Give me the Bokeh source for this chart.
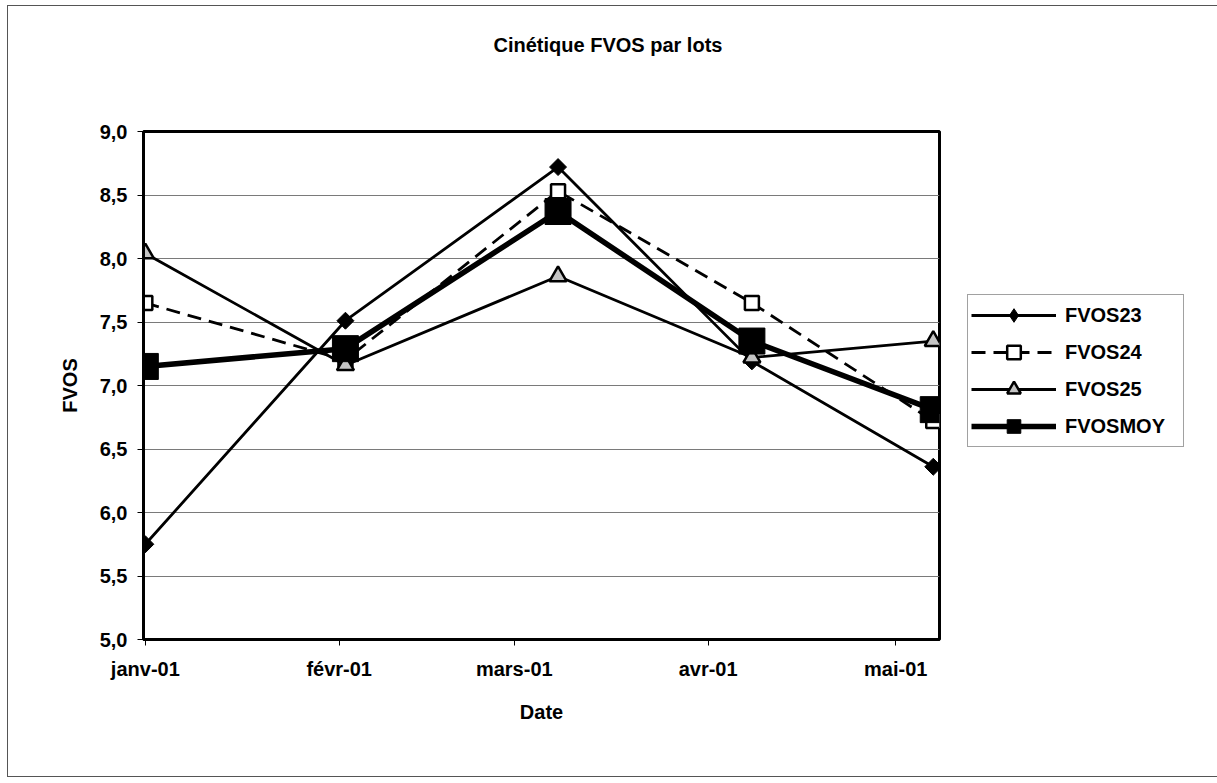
from datetime import datetime, timedelta
from bokeh.plotting import figure
from bokeh.models import (Range1d, FixedTicker, CustomJSTickFormatter, Legend, LegendItem, Title)
from bokeh.embed import file_html
from bokeh.resources import INLINE
import math

# ---- data ----
dates = ["2001-01-01", "2001-02-02", "2001-03-08", "2001-04-08", "2001-05-07"]
fvos23 = [5.75, 7.51, 8.72, 7.19, 6.36]
fvos24 = [7.65, 7.20, 8.53, 7.65, 6.72]
fvos25 = [8.04, 7.16, 7.86, 7.22, 7.35]
fvosmoy = [7.15, 7.29, 8.37, 7.35, 6.81]
series_names = ["FVOS23", "FVOS24", "FVOS25", "FVOSMOY"]
month_ticks = ["2001-01-01", "2001-02-01", "2001-03-01", "2001-04-01", "2001-05-01"]
month_labels = ["janv-01", "févr-01", "mars-01", "avr-01", "mai-01"]
y_ticks = [5.0, 5.5, 6.0, 6.5, 7.0, 7.5, 8.0, 8.5, 9.0]
title_text = "Cinétique FVOS par lots"

FONT = "Liberation Sans"

def to_dt(s):
    return datetime.strptime(s, "%Y-%m-%d")

def to_ms(d):
    return (d - datetime(1970, 1, 1)).total_seconds() * 1000.0

xs = [to_dt(d) for d in dates]
tick_ms = [to_ms(to_dt(d)) for d in month_ticks]

x_start = to_dt(month_ticks[0]) - timedelta(hours=7)
x_end = to_dt("2001-05-08")

p = figure(frame_width=796, frame_height=508, x_axis_type="datetime",
           x_range=Range1d(x_start, x_end), y_range=Range1d(5.0, 9.0),
           output_backend="svg", toolbar_location=None,
           min_border_left=135, min_border_right=272,
           min_border_top=125, min_border_bottom=137,
           background_fill_color="white", border_fill_color="white")
p.margin = (5, 0, 0, 7)
p.styles = {"border": "1px solid #555"}
p.title = None

# spacer title (closest to the frame) then the real chart title above it
p.add_layout(Title(text=" ", standoff=73, text_font_size="1px"), "above")
p.add_layout(Title(text=title_text, align="left", offset=350, standoff=0,
                   text_font=FONT, text_font_style="bold", text_font_size="20px",
                   text_color="black"), "above")

p.outline_line_color = "black"
p.outline_line_width = 3

# grid
p.xgrid.visible = False
p.ygrid.grid_line_color = "#7a7a7a"
p.ygrid.grid_line_width = 1
p.ygrid.ticker = FixedTicker(ticks=y_ticks)

# y axis
p.yaxis.ticker = FixedTicker(ticks=y_ticks)
p.yaxis.formatter = CustomJSTickFormatter(code="return tick.toFixed(1).replace('.', ',');")
p.yaxis.axis_label = "FVOS"
p.yaxis.axis_label_standoff = 16
# x axis
p.xaxis.ticker = FixedTicker(ticks=tick_ms)
p.xaxis.major_label_overrides = {t: l for t, l in zip(tick_ms, month_labels)}
p.xaxis.axis_label = "Date"
p.xaxis.axis_label_standoff = 18

for ax in (p.xaxis[0], p.yaxis[0]):
    ax.axis_line_color = "black"
    ax.axis_line_width = 3
    ax.major_tick_out = 6
    ax.major_tick_in = 0
    ax.major_tick_line_color = "black"
    ax.major_tick_line_width = 1
    ax.minor_tick_out = 0
    ax.minor_tick_in = 0
    ax.major_label_text_font = FONT
    ax.major_label_text_font_style = "bold"
    ax.major_label_text_font_size = "20px"
    ax.major_label_text_color = "black"
    ax.axis_label_text_font = FONT
    ax.axis_label_text_font_style = "bold"
    ax.axis_label_text_font_size = "20px"
    ax.axis_label_text_color = "black"
p.xaxis.major_label_standoff = 12
p.yaxis.major_label_standoff = 10

# series
l23 = p.line(xs, fvos23, line_color="black", line_width=2.8)
m23 = p.scatter(xs, fvos23, marker="square", angle=math.pi / 4, size=12,
                fill_color="black", line_color="black")
# diamond shape used for the legend swatch (size 0: nothing drawn in the plot)
k23 = p.scatter(xs, fvos23, marker="diamond", size=0,
                fill_color="black", line_color="black")

l24 = p.line(xs, fvos24, line_color="black", line_width=2.8, line_dash="14 8")
m24 = p.scatter(xs, fvos24, marker="square", size=14, fill_color="white",
                line_color="black", line_width=2.5)

l25 = p.line(xs, fvos25, line_color="black", line_width=2.8)
m25 = p.scatter(xs, fvos25, marker="triangle", size=17, fill_color="#c4c4c4",
                line_color="black", line_width=2.5)

lmoy = p.line(xs, fvosmoy, line_color="black", line_width=5.5)
mmoy = p.scatter(xs, fvosmoy, marker="square", size=26, fill_color="black",
                 line_color="black")

legend = Legend(items=[
    LegendItem(label=series_names[0], renderers=[l23, k23]),
    LegendItem(label=series_names[1], renderers=[l24, m24]),
    LegendItem(label=series_names[2], renderers=[l25, m25]),
    LegendItem(label=series_names[3], renderers=[lmoy, mmoy]),
], location=(28, 192))
legend.glyph_width = 85
legend.glyph_height = 34
legend.label_width = 115
legend.label_standoff = 9
legend.spacing = 3
legend.padding = 3
legend.margin = 0
legend.label_text_font = FONT
legend.label_text_font_style = "bold"
legend.label_text_font_size = "20px"
legend.label_text_color = "black"
legend.border_line_color = "#444"
legend.border_line_width = 1
legend.background_fill_color = "white"
legend.background_fill_alpha = 1
p.add_layout(legend, "right")

open("out.html", "w").write(file_html(p, INLINE))
